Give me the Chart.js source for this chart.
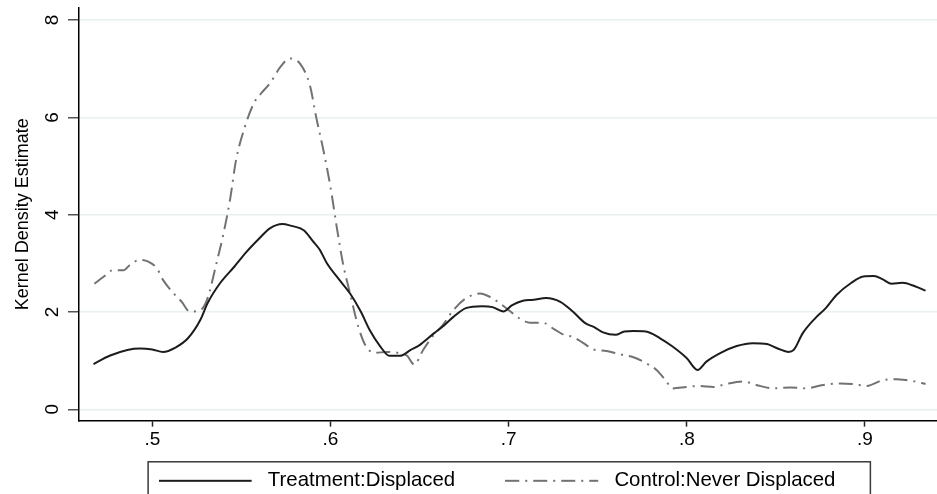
<!DOCTYPE html>
<html>
<head>
<meta charset="utf-8">
<title>Kernel Density Estimate</title>
<script src="https://cdn.jsdelivr.net/npm/chart.js@4.4.1/dist/chart.umd.min.js"></script>
<style>
  html, body { margin: 0; padding: 0; overflow: hidden; background: #fff; }
  canvas { display: block; }
</style>
</head>
<body>
<canvas id="kdeChart" width="937" height="532"></canvas>
<script>
const seriesNames = ['Treatment:Displaced', 'Control:Never Displaced'];

const treatmentX = [0.467, 0.476, 0.486, 0.493, 0.500, 0.506, 0.513, 0.520, 0.527, 0.531,
    0.538, 0.546, 0.553, 0.560, 0.566, 0.573, 0.578, 0.585, 0.590, 0.594,
    0.598, 0.605, 0.611, 0.617, 0.622, 0.628, 0.633, 0.639, 0.645, 0.650,
    0.658, 0.663, 0.669, 0.676, 0.685, 0.691, 0.697, 0.702, 0.708, 0.714,
    0.721, 0.729, 0.736, 0.743, 0.748, 0.753, 0.760, 0.765, 0.770, 0.777,
    0.785, 0.792, 0.800, 0.806, 0.811, 0.819, 0.828, 0.837, 0.845, 0.851,
    0.857, 0.860, 0.865, 0.872, 0.878, 0.884, 0.892, 0.899, 0.905, 0.910,
    0.915, 0.921, 0.928, 0.934];
const treatmentY = [0.93, 1.10, 1.22, 1.25, 1.23, 1.18, 1.27, 1.46, 1.84, 2.18,
    2.59, 2.93, 3.24, 3.51, 3.72, 3.81, 3.77, 3.68, 3.46, 3.28,
    3.00, 2.66, 2.38, 2.01, 1.63, 1.29, 1.10, 1.10, 1.22, 1.32,
    1.56, 1.70, 1.90, 2.08, 2.12, 2.10, 2.01, 2.14, 2.23, 2.25,
    2.29, 2.21, 2.01, 1.77, 1.69, 1.58, 1.53, 1.60, 1.61, 1.60,
    1.46, 1.29, 1.05, 0.81, 0.98, 1.16, 1.30, 1.36, 1.34, 1.25,
    1.18, 1.22, 1.56, 1.87, 2.08, 2.35, 2.59, 2.73, 2.74, 2.67,
    2.58, 2.60, 2.53, 2.44];

const controlX = [0.4675, 0.4725, 0.478, 0.484, 0.4875, 0.493, 0.498, 0.5025, 0.506, 0.512,
    0.5165, 0.521, 0.527, 0.531, 0.536, 0.540, 0.5436, 0.547, 0.552, 0.557,
    0.561, 0.566, 0.572, 0.577, 0.583, 0.5885, 0.592, 0.596, 0.600, 0.6035,
    0.607, 0.611, 0.6156, 0.620, 0.625, 0.6315, 0.638, 0.643, 0.647, 0.652,
    0.658, 0.663, 0.669, 0.676, 0.684, 0.6895, 0.695, 0.701, 0.706, 0.712,
    0.719, 0.725, 0.731, 0.736, 0.742, 0.7475, 0.755, 0.7625, 0.770, 0.777,
    0.783, 0.788, 0.792, 0.800, 0.807, 0.815, 0.822, 0.832, 0.839, 0.8485,
    0.858, 0.867, 0.8765, 0.886, 0.893, 0.901, 0.910, 0.918, 0.923, 0.927,
    0.934];
const controlY = [2.58, 2.72, 2.86, 2.86, 2.97, 3.07, 3.03, 2.90, 2.66, 2.38,
    2.21, 2.01, 2.04, 2.28, 3.00, 3.62, 4.30, 5.12, 5.81, 6.29,
    6.49, 6.70, 7.04, 7.21, 7.10, 6.65, 6.00, 5.33, 4.57, 3.75,
    3.00, 2.38, 1.70, 1.29, 1.16, 1.18, 1.16, 1.10, 0.92, 1.22,
    1.53, 1.73, 2.04, 2.28, 2.38, 2.31, 2.18, 2.01, 1.87, 1.78,
    1.78, 1.66, 1.53, 1.49, 1.36, 1.23, 1.20, 1.13, 1.07, 0.95,
    0.81, 0.60, 0.43, 0.46, 0.48, 0.46, 0.52, 0.57, 0.50, 0.43,
    0.45, 0.43, 0.50, 0.53, 0.52, 0.48, 0.60, 0.62, 0.60, 0.58,
    0.52];

const xTickValues = [0.5, 0.6, 0.7, 0.8, 0.9];
const xTickLabels = ['.5', '.6', '.7', '.8', '.9'];
const yTickValues = [0, 2, 4, 6, 8];
const yTickLabels = ['0', '2', '4', '6', '8'];

const FONT = 'Liberation Sans';
const solidColor = '#1c1c1c';
const dashColor = '#727272';
const dashPattern = [14, 6, 2, 6];

// little canvas used as the legend symbol, so the key line and its text
// keep the same spacing as the original
function keyLine(color, dash) {
    const c = document.createElement('canvas');
    c.width = 99;
    c.height = 4;
    const g = c.getContext('2d');
    g.strokeStyle = color;
    g.lineWidth = 2;
    g.setLineDash(dash);
    g.beginPath();
    g.moveTo(0, 2);
    g.lineTo(93, 2);
    g.stroke();
    return c;
}

function toPoints(xs, ys) {
    return xs.map((x, i) => ({ x: x, y: ys[i] }));
}

const legendFrame = {
    id: 'legendFrame',
    afterLayout(chart) {
        // key sits tight under the axis labels, centred under the plot region
        const lg = chart.legend;
        lg.left -= 11;
        lg.right -= 11;
        lg.top -= 30;
        lg.bottom -= 30;
    },
    afterDraw(chart) {
        const boxes = chart.legend.legendHitBoxes;
        if (!boxes || !boxes.length) return;
        const first = boxes[0];
        const last = boxes[boxes.length - 1];
        const mid = first.top + first.height / 2;
        const left = first.left - 10.5;
        const right = last.left + last.width + 35;
        const ctx = chart.ctx;
        ctx.save();
        ctx.strokeStyle = '#3a3a3a';
        ctx.lineWidth = 1.5;
        ctx.strokeRect(left, mid - 19, right - left, 38);
        ctx.restore();
    }
};

const ctx = document.getElementById('kdeChart').getContext('2d');

new Chart(ctx, {
    type: 'line',
    data: {
        datasets: [{
            label: seriesNames[0],
            data: toPoints(treatmentX, treatmentY),
            borderColor: solidColor,
            backgroundColor: solidColor,
            borderWidth: 2,
            pointRadius: 0,
            pointHoverRadius: 0,
            pointStyle: keyLine(solidColor, []),
            cubicInterpolationMode: 'monotone',
            fill: false
        }, {
            label: seriesNames[1],
            data: toPoints(controlX, controlY),
            borderColor: dashColor,
            backgroundColor: dashColor,
            borderWidth: 2,
            borderDash: dashPattern,
            pointRadius: 0,
            pointHoverRadius: 0,
            pointStyle: keyLine(dashColor, dashPattern),
            cubicInterpolationMode: 'monotone',
            fill: false
        }]
    },
    options: {
        responsive: false,
        animation: false,
        events: [],
        layout: { padding: { top: 8, bottom: 1, left: 0, right: 0 } },
        scales: {
            x: {
                type: 'linear',
                min: 0.45886,
                max: 0.94041,
                afterBuildTicks: s => { s.ticks = xTickValues.map(v => ({ value: v })); },
                afterFit: s => { s.height = 30; s.paddingLeft = 0; s.paddingRight = 0; },
                border: { color: '#000', width: 1.5 },
                grid: { drawOnChartArea: false, tickColor: '#222', tickLength: 6, tickWidth: 1.5 },
                ticks: {
                    padding: 2,
                    color: '#000',
                    font: { family: FONT, size: 19 },
                    callback: (v, i) => xTickLabels[i]
                }
            },
            y: {
                type: 'linear',
                min: -0.232,
                max: 8.247,
                afterBuildTicks: s => { s.ticks = yTickValues.map(v => ({ value: v })); },
                afterFit: s => { s.width = 79; s.paddingTop = 0; s.paddingBottom = 0; },
                border: { color: '#000', width: 1.5 },
                grid: { color: '#e8f0f1', lineWidth: 1.5, tickColor: '#555', tickLength: 11, tickWidth: 1.5 },
                ticks: {
                    minRotation: 90,
                    maxRotation: 90,
                    crossAlign: 'center',
                    padding: 10,
                    color: '#000',
                    font: { family: FONT, size: 19 },
                    callback: (v, i) => yTickLabels[i]
                },
                title: {
                    display: true,
                    text: 'Kernel Density Estimate',
                    color: '#000',
                    font: { family: FONT, size: 18 },
                    padding: { top: 12, bottom: 0 }
                }
            }
        },
        plugins: {
            legend: {
                position: 'bottom',
                fullSize: false,
                labels: {
                    usePointStyle: true,
                    pointStyleWidth: 99,
                    padding: 50,
                    color: '#000',
                    font: { family: FONT, size: 20.4 }
                }
            },
            tooltip: { enabled: false }
        }
    },
    plugins: [legendFrame]
});
</script>
</body>
</html>
